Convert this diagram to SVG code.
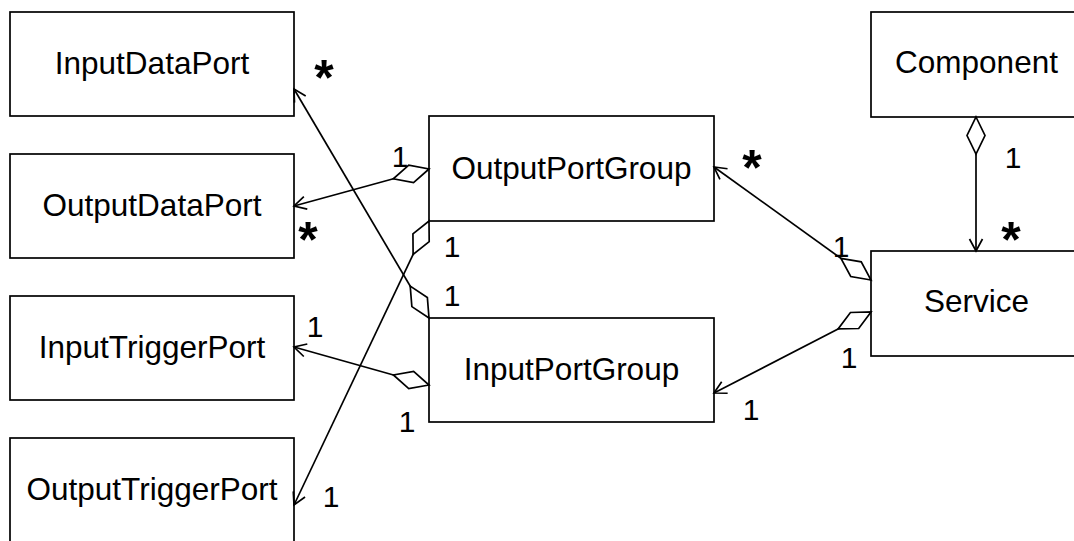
<svg xmlns="http://www.w3.org/2000/svg" width="1074" height="541" viewBox="0 0 1074 541">
<style>
  .box { fill: #fff; stroke: #000; stroke-width: 1.7; }
  .lbl { font-family: "Liberation Sans", Arial, sans-serif; font-size: 31.5px; fill: #000; text-anchor: middle; }
  .mult { font-family: "Liberation Sans", Arial, sans-serif; font-size: 30px; fill: #000; text-anchor: middle; }
  .star { font-family: "Liberation Sans", Arial, sans-serif; font-size: 50px; font-weight: bold; fill: #000; text-anchor: middle; }
  .conn { fill: none; stroke: #000; stroke-width: 1.7; marker-start: url(#diamond); marker-end: url(#arrow); }
</style>
<defs>
  <marker id="diamond" markerUnits="userSpaceOnUse" orient="auto" refX="0" refY="0" markerWidth="40" markerHeight="20" viewBox="-1 -10 40 20" overflow="visible">
    <path d="M0,0 L18.5,-9 L37,0 L18.5,9 Z" fill="#fff" stroke="#000" stroke-width="1.7"/>
  </marker>
  <marker id="arrow" markerUnits="userSpaceOnUse" orient="auto" refX="0" refY="0" markerWidth="20" markerHeight="20" viewBox="-15 -10 20 20" overflow="visible">
    <path d="M-12,-6.5 L0,0 L-12,6.5" fill="none" stroke="#000" stroke-width="1.7"/>
  </marker>
</defs>
<rect width="1074" height="541" fill="#fff"/>

<g id="InputDataPort"><rect class="box" x="10" y="12" width="284" height="104"/><text class="lbl" x="152" y="74">InputDataPort</text></g>
<g id="OutputDataPort"><rect class="box" x="10" y="154" width="284" height="104"/><text class="lbl" x="152" y="216">OutputDataPort</text></g>
<g id="InputTriggerPort"><rect class="box" x="10" y="296" width="284" height="104"/><text class="lbl" x="152" y="358">InputTriggerPort</text></g>
<g id="OutputTriggerPort"><rect class="box" x="10" y="438" width="284" height="106"/><text class="lbl" x="152" y="500">OutputTriggerPort</text></g>
<g id="OutputPortGroup"><rect class="box" x="429" y="116" width="285" height="105"/><text class="lbl" x="571.5" y="179">OutputPortGroup</text></g>
<g id="InputPortGroup"><rect class="box" x="429" y="318" width="285" height="104"/><text class="lbl" x="571.5" y="380">InputPortGroup</text></g>
<g id="Component"><rect class="box" x="871" y="12" width="211" height="105"/><text class="lbl" x="976.5" y="73">Component</text></g>
<g id="Service"><rect class="box" x="871" y="251" width="211" height="105"/><text class="lbl" x="976.5" y="312">Service</text></g>

<g id="connectors">
  <path class="conn" d="M429,169 L294,206"/>
  <path class="conn" d="M429,221 L294,505"/>
  <path class="conn" d="M429,318 L294,89"/>
  <path class="conn" d="M429,385 L294,347"/>
  <path class="conn" d="M871,280 L714,167"/>
  <path class="conn" d="M871,312 L714,393"/>
  <path class="conn" d="M976,117 L976,251"/>
</g>

<g id="labels">
  <text class="star" x="324" y="95">*</text>
  <text class="star" x="308" y="257">*</text>
  <text class="star" x="752" y="185">*</text>
  <text class="star" x="1011" y="257">*</text>
  <text class="mult" x="400" y="167">1</text>
  <text class="mult" x="452" y="257">1</text>
  <text class="mult" x="452" y="306">1</text>
  <text class="mult" x="315" y="337">1</text>
  <text class="mult" x="407" y="432">1</text>
  <text class="mult" x="331" y="507">1</text>
  <text class="mult" x="1013" y="168">1</text>
  <text class="mult" x="841" y="257">1</text>
  <text class="mult" x="849" y="368">1</text>
  <text class="mult" x="751" y="420">1</text>
</g>
</svg>
